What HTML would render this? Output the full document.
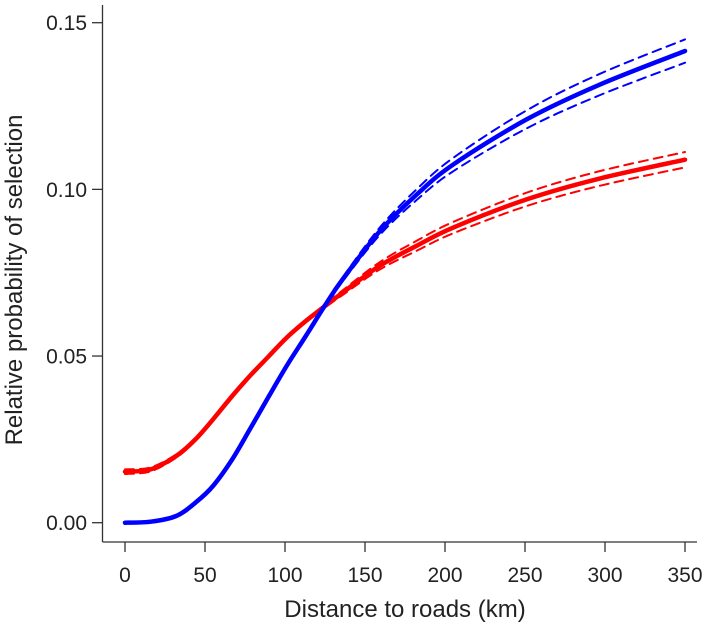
<!DOCTYPE html>
<html><head><meta charset="utf-8"><style>
body{margin:0;background:#fff;}
svg text{font-family:"Liberation Sans",Arial,sans-serif;fill:#222;}
</style></head><body>
<svg id="chart" width="709" height="628"></svg>
<script>
const xs=[0,16,32,44,55,67,78,90,101,113,125,136,159,182,205,251,297,350];
const blue=[0,0.0003,0.002,0.006,0.011,0.019,0.028,0.038,0.047,0.056,0.0652,0.073,0.0873,0.0983,0.1074,0.121,0.1315,0.1415];
const blueLo=[0,0.0003,0.0019,0.0058,0.0107,0.0186,0.0276,0.0376,0.0466,0.0556,0.0648,0.0724,0.0862,0.0967,0.1054,0.1183,0.1283,0.1380];
const blueHi=[0,0.0003,0.0021,0.0062,0.0113,0.0194,0.0284,0.0384,0.0474,0.0564,0.0656,0.0736,0.0884,0.0999,0.1094,0.1237,0.1347,0.1450];
const red=[0.0153,0.016,0.020,0.025,0.031,0.038,0.044,0.050,0.0555,0.0605,0.065,0.069,0.077,0.083,0.0885,0.097,0.1033,0.1089];
const redLo=[0.0146,0.0154,0.0195,0.0246,0.0307,0.0377,0.0437,0.0497,0.0552,0.0601,0.0645,0.0683,0.0759,0.0815,0.0868,0.0950,0.1011,0.1066];
const redHi=[0.0160,0.0166,0.0205,0.0254,0.0313,0.0383,0.0443,0.0503,0.0558,0.0609,0.0655,0.0697,0.0781,0.0845,0.0902,0.0990,0.1055,0.1112];
const xTicks=[0,50,100,150,200,250,300,350];
const yTicks=[0,0.05,0.10,0.15];
const yLabels=["0.00","0.05","0.10","0.15"];
const X=v=>125+v*(560/350);
const Y=v=>522.7-v*(500/0.15);
const svg=document.getElementById('chart');
const NS='http://www.w3.org/2000/svg';
function mk(tag,at,parent){const e=document.createElementNS(NS,tag);for(const k in at)e.setAttribute(k,at[k]);(parent||svg).appendChild(e);return e;}
let a=mk('line',{x1:102.5,y1:5,x2:102.5,y2:542,stroke:'#333','stroke-width':1.3});


a=mk('line',{x1:102.5,y1:542,x2:697,y2:542,stroke:'#333','stroke-width':1.3});


xTicks.forEach(t=>{
 const l=mk('line',{x1:X(t),y1:542,x2:X(t),y2:552,stroke:'#333','stroke-width':1.3});
 
 
 const tx=mk('text',{x:X(t),y:582,'text-anchor':'middle','font-size':21});
 tx.textContent=t;
 
 
});
yTicks.forEach((t,i)=>{
 const l=mk('line',{x1:92,y1:Y(t),x2:102.5,y2:Y(t),stroke:'#333','stroke-width':1.3});
 
 
 const tx=mk('text',{x:87,y:Y(t)+7.5,'text-anchor':'end','font-size':21});
 tx.textContent=yLabels[i];
 
 
});
function path(vals){
 const p=xs.map((x,i)=>[X(x),Y(vals[i])]);
 let d='M'+p[0][0].toFixed(1)+','+p[0][1].toFixed(1);
 for(let i=0;i<p.length-1;i++){
  const p0=p[i-1]||p[i],p1=p[i],p2=p[i+1],p3=p[i+2]||p2;
  const c1=[p1[0]+(p2[0]-p0[0])/6,p1[1]+(p2[1]-p0[1])/6];
  const c2=[p2[0]-(p3[0]-p1[0])/6,p2[1]-(p3[1]-p1[1])/6];
  d+=' C'+c1.map(v=>v.toFixed(1)).join(',')+' '+c2.map(v=>v.toFixed(1)).join(',')+' '+p2.map(v=>v.toFixed(1)).join(',');
 }
 return d;
}
function line(vals,color,w,dash,name){
 const p=mk('path',{d:path(vals),fill:'none',stroke:color,'stroke-width':w,'stroke-linejoin':'round','stroke-linecap':'round'});
 if(dash)p.setAttribute('stroke-dasharray',dash);
 
 
}
line(redLo,'#f00',2,'9,6','red-ci-lower');
line(redHi,'#f00',2,'9,6','red-ci-upper');
line(red,'#f00',4.5,null,'red-series');
line(blueLo,'#00f',2,'9,6','blue-ci-lower');
line(blueHi,'#00f',2,'9,6','blue-ci-upper');
line(blue,'#00f',4.5,null,'blue-series');
let t=mk('text',{x:405,y:617,'text-anchor':'middle','font-size':24});
t.textContent='Distance to roads (km)';


t=mk('text',{x:0,y:0,'text-anchor':'middle','font-size':24,transform:'translate(22,280) rotate(-90)'});
t.textContent='Relative probability of selection';


</script>
</body></html>
